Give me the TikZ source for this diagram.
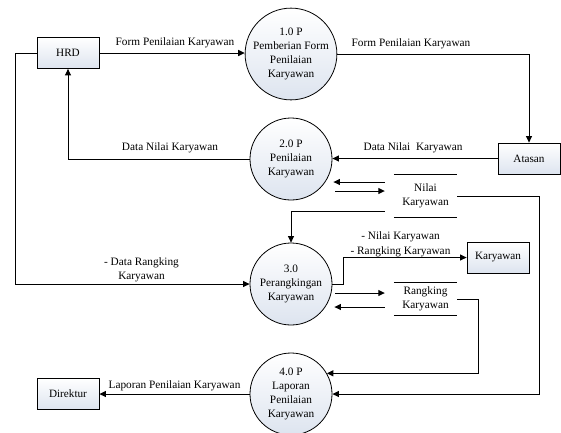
\documentclass[tikz,border=0pt]{standalone}
\usepackage{fontspec}
\setmainfont{Liberation Serif}
\usetikzlibrary{arrows.meta,calc}
\definecolor{shadebot}{HTML}{DDE4EF}
\begin{document}
\begin{tikzpicture}[x=1pt,y=-1pt,
  ent/.style={draw, line width=0.8pt, rectangle, minimum width=62pt, minimum height=31pt,
    inner sep=0pt, top color=white, bottom color=shadebot, font=\fontsize{11.2}{13}\selectfont},
  proc/.style={draw, line width=0.8pt, circle, minimum size=82pt, inner sep=0pt,
    top color=white, bottom color=shadebot, align=center, font=\fontsize{11.3}{14}\selectfont},
  store/.style={minimum width=63pt, inner sep=0pt, align=center, font=\fontsize{11.3}{14.5}\selectfont},
  flow/.style={draw, line width=1pt, -{Triangle[length=6.5pt,width=6pt]}},
  lbl/.style={inner sep=0pt, align=center, font=\fontsize{11.3}{14.5}\selectfont}
]
\useasboundingbox (0,0) rectangle (561,432);

% external entities
\node[ent] (hrd) at (68,53) {HRD};
\node[ent] (atasan) at (529,158.5) {Atasan};
\node[ent] (kar) at (498,257.5) {Karyawan};
\node[ent] (dir) at (68,394) {Direktur};

% processes
\node[proc] (p1) at (291,54) {1.0 P\\Pemberian Form\\Penilaian\\Karyawan};
\node[proc] (p2) at (291,159) {2.0 P\\Penilaian\\Karyawan};
\node[proc] (p3) at (291,284) {3.0\\Perangkingan\\Karyawan};
\node[proc] (p4) at (291,394) {4.0 P\\Laporan\\Penilaian\\Karyawan};

% data stores
\node[store, minimum height=42pt] (ns) at (425.5,196) {Nilai\\Karyawan};
\draw[line width=0.8pt] (ns.north west) -- (ns.north east);
\draw[line width=0.8pt] (ns.south west) -- (ns.south east);
\node[store, minimum height=32pt] (rs) at (425.5,299) {Rangking\\Karyawan};
\draw[line width=0.8pt] (rs.north west) -- (rs.north east);
\draw[line width=0.8pt] (rs.south west) -- (rs.south east);

% data flows
\draw[flow] (hrd.east) -- (hrd.east -| p1.west);
\node[lbl] at (175,43) {Form Penilaian Karyawan};

\draw[flow] (p1.east) -| (atasan.north);
\node[lbl] at (411,44) {Form Penilaian Karyawan};

\draw[flow] (atasan.west) -- (atasan.west -| p2.east);
\node[lbl] at (413,148) {Data Nilai\ \ Karyawan};

\draw[flow] (p2.west) -| (hrd.south);
\node[lbl] at (170,148) {Data Nilai Karyawan};

\coordinate (s2a) at ($(ns.west)+(-9,-14)$);
\coordinate (s2b) at ($(ns.west)+(-9,-5)$);
\draw[flow] (s2a) -- ($(s2a -| p2.east)+(1,0)$);
\draw[flow] ($(s2b -| p2.east)+(3,0)$) -- (s2b);

\draw[flow] (hrd.west) -- ++(-21,0) |- (p3.west);
\node[lbl] at (141.5,270) {- Data Rangking\\Karyawan};

\coordinate (s2c) at ($(ns.west)+(-9,15)$);
\draw[flow] (s2c) -| (p3.north);

\draw[flow] (ns.east) -- ++(82,0) |- (p4.east);

\draw[flow] (p3.east) -- ++(11,0) |- (kar.west);
\node[lbl] at (400.5,244.5) {- Nilai Karyawan\\- Rangking Karyawan};

\coordinate (s3a) at ($(rs.west)+(-9,-6)$);
\coordinate (s3b) at ($(rs.west)+(-9,8)$);
\draw[flow] ($(s3a -| p3.east)+(3,0)$) -- (s3a);
\draw[flow] (s3b) -- ($(s3b -| p3.east)+(2,0)$);

\draw[flow] (rs.east) -- ++(21,0) |- (p4.30);

\draw[flow] (p4.west) -- (p4.west -| dir.east);
\node[lbl] at (174.5,386) {Laporan Penilaian Karyawan};
\end{tikzpicture}
\end{document}
